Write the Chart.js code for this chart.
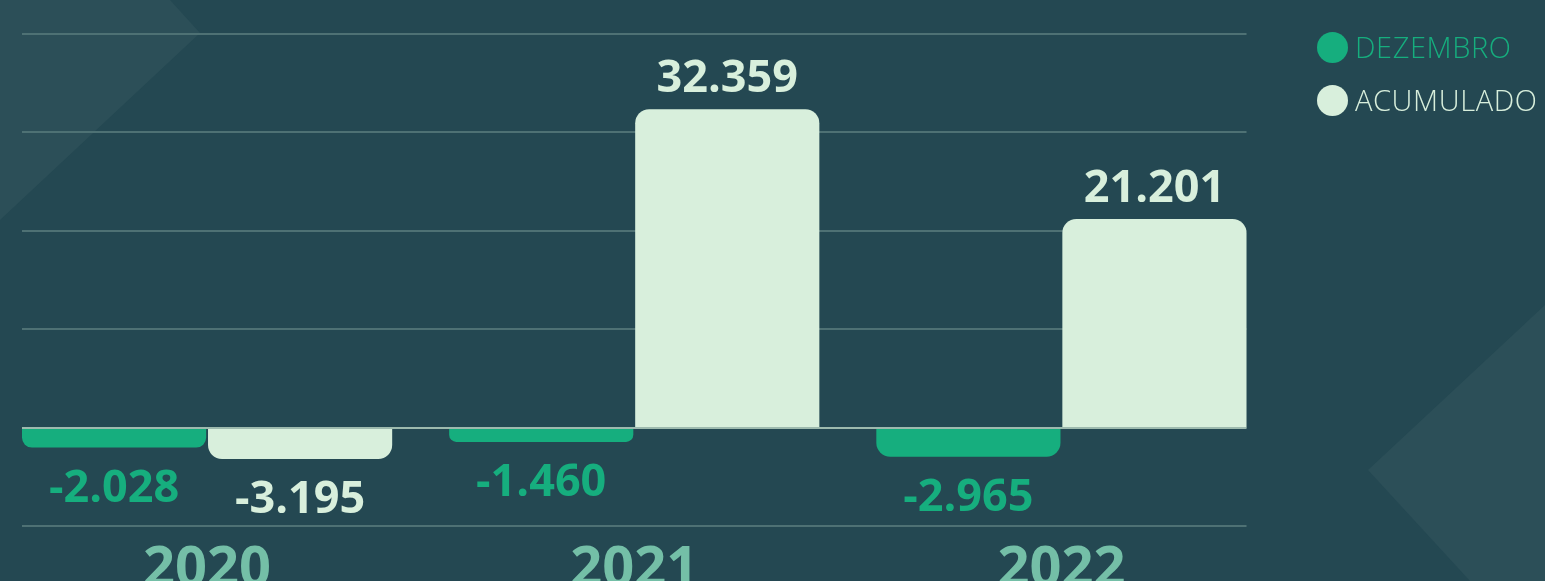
<!DOCTYPE html>
<html lang="pt-BR">
<head>
<meta charset="utf-8">
<script src="https://cdn.jsdelivr.net/npm/chart.js@4"></script>
<style>
  html, body { margin: 0; padding: 0; }
  body {
    width: 1545px; height: 581px; overflow: hidden; position: relative;
    background: #244852; font-family: "Open Sans", sans-serif;
  }
  .shape { position: absolute; inset: 0; background: #2c4f58; }
  .shape.a { clip-path: polygon(0 0, 170px 0, 200px 33px, 0 220px); }
  .shape.b { clip-path: polygon(1368px 470px, 1545px 305px, 1545px 581px, 1470px 581px); }
  #wrap { position: absolute; left: -28px; top: 0; width: 1573px; height: 581px; }
  #legenda { position: absolute; left: 1317px; top: 30px; }
  #legenda div {
    display: flex; align-items: center; height: 34px; margin-bottom: 19px;
    font-size: 29px; font-weight: 300; letter-spacing: 0.6px; line-height: 34px;
  }
  #legenda span.dot { width: 31px; height: 31px; border-radius: 50%; margin-right: 7px; flex: none; }
</style>
</head>
<body>
<div class="shape a"></div>
<div class="shape b"></div>
<div id="wrap"><canvas id="grafico"></canvas></div>
<div id="legenda"></div>

<script>
// dados (milhares)
const categorias = ["2020", "2021", "2022"];
const dezembro = [-2028, -1460, -2965];
const acumulado = [-3195, 32359, 21201];
const linhasGrade = [-10000, 0, 10000, 20000, 30000, 40000];

const VERDE = "#16ae7e";
const CLARO = "#d8efdc";

// grade só entre a primeira e a última barra
const gradePlugin = {
  id: "grade",
  beforeDatasetsDraw(chart) {
    desenhaLinhas(chart, false);
  },
  afterDatasetsDraw(chart) {
    desenhaLinhas(chart, true);
    desenhaRotulos(chart);
  }
};

function extensao(chart) {
  const m0 = chart.getDatasetMeta(0).data;
  const m1 = chart.getDatasetMeta(1).data;
  const a = m0[0], b = m1[m1.length - 1];
  return [a.x - a.width / 2, b.x + b.width / 2];
}

function desenhaLinhas(chart, zero) {
  const ctx = chart.ctx;
  const y = chart.scales.y;
  const [x0, x1] = extensao(chart);
  ctx.save();
  ctx.lineWidth = 2;
  linhasGrade.forEach(v => {
    if ((v === 0) !== zero) return;
    const py = Math.round(y.getPixelForValue(v));
    ctx.strokeStyle = v === 0 ? "#9dbaae" : "#4e7174";
    ctx.beginPath();
    ctx.moveTo(x0, py);
    ctx.lineTo(x1, py);
    ctx.stroke();
  });
  ctx.restore();
}

function desenhaRotulos(chart) {
  const ctx = chart.ctx;
  const fs = 45;
  ctx.save();
  ctx.font = `bold ${fs}px "Open Sans", sans-serif`;
  ctx.textAlign = "center";
  ctx.textBaseline = "alphabetic";
  chart.data.datasets.forEach((ds, i) => {
    chart.getDatasetMeta(i).data.forEach((bar, j) => {
      const v = ds.data[j];
      const centro = v >= 0 ? bar.y - 33 : bar.y + 38;
      ctx.fillStyle = ds.rotuloCor;
      ctx.fillText(v.toLocaleString("pt-BR"), bar.x, centro + fs * 0.357);
    });
  });
  ctx.restore();
}

const grafico = new Chart(document.getElementById("grafico"), {
  type: "bar",
  data: {
    labels: categorias,
    datasets: [
      { label: "DEZEMBRO", data: dezembro, backgroundColor: VERDE, rotuloCor: VERDE },
      { label: "ACUMULADO", data: acumulado, backgroundColor: CLARO, rotuloCor: CLARO }
    ]
  },
  options: {
    responsive: true,
    maintainAspectRatio: false,
    animation: false,
    layout: { padding: { left: 21.5, right: 270, top: 34, bottom: 0 } },
    datasets: {
      bar: { categoryPercentage: 0.871, barPercentage: 0.99, borderRadius: 14, borderSkipped: "start" }
    },
    scales: {
      x: {
        grid: { display: false, drawTicks: false },
        border: { display: false },
        ticks: {
          color: "#74bfa7",
          font: { family: '"Open Sans", sans-serif', size: 56, weight: "bold" },
          padding: 10
        },
        afterFit(scale) { scale.height = 55; }
      },
      y: {
        display: false,
        min: -10000,
        max: 40000,
        ticks: { stepSize: 10000 }
      }
    },
    plugins: {
      legend: { display: false },
      tooltip: { enabled: false }
    }
  },
  plugins: [gradePlugin]
});

// legenda em html
const legenda = document.getElementById("legenda");
grafico.data.datasets.forEach(ds => {
  const item = document.createElement("div");
  item.style.color = ds.rotuloCor;
  item.innerHTML = `<span class="dot" style="background:${ds.backgroundColor}"></span>${ds.label}`;
  legenda.appendChild(item);
});
</script>
</body>
</html>
